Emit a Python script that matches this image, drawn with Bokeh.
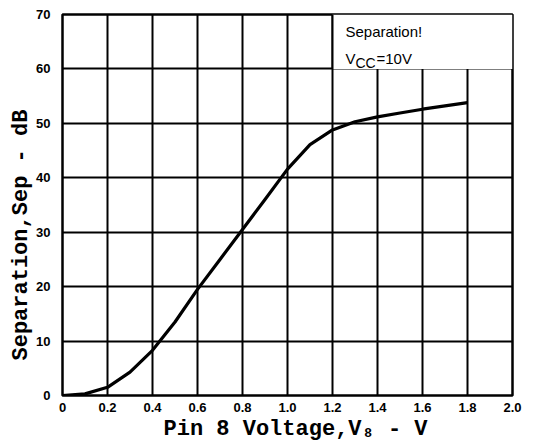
from bokeh.plotting import figure
from bokeh.models import Range1d, FixedTicker, Label, Title
from bokeh.embed import file_html
from bokeh.resources import INLINE

# ---- data ----
volt = [0.0, 0.1, 0.2, 0.3, 0.4, 0.5, 0.6, 0.7, 0.8, 0.9, 1.0,
        1.1, 1.2, 1.3, 1.4, 1.5, 1.6, 1.7, 1.8]
sep_db = [0.0, 0.3, 1.5, 4.3, 8.3, 13.5, 19.5, 25.0, 30.5, 36.0, 41.6,
          46.1, 48.8, 50.3, 51.2, 51.9, 52.6, 53.2, 53.8]
x_ticks = [0.0, 0.2, 0.4, 0.6, 0.8, 1.0, 1.2, 1.4, 1.6, 1.8, 2.0]
x_tick_labels = ["0", "0.2", "0.4", "0.6", "0.8", "1.0", "1.2", "1.4", "1.6", "1.8", "2.0"]
y_ticks = [0, 10, 20, 30, 40, 50, 60, 70]
y_tick_labels = ["0", "10", "20", "30", "40", "50", "60", "70"]
x_title = "Pin 8 Voltage,V\u2088 - V"
y_title = "Separation,Sep - dB"
# annotation box (data units)
note_x = [1.2, 2.0]
note_y = [60, 70]

p = figure(width=530, height=445, output_backend="svg", toolbar_location=None,
           x_range=Range1d(0, 2.0), y_range=Range1d(0, 70),
           min_border_left=62, min_border_right=18, min_border_top=14,
           min_border_bottom=50)
p.background_fill_color = "white"
p.border_fill_color = "white"
p.outline_line_color = "black"
p.outline_line_width = 2.5

for ax in (p.xaxis[0], p.yaxis[0]):
    ax.axis_line_color = None
    ax.major_tick_line_color = None
    ax.minor_tick_line_color = None
    ax.major_label_text_font = "Liberation Sans"
    ax.major_label_text_font_style = "bold"
    ax.major_label_text_font_size = "13px"
    ax.major_label_text_color = "black"

p.xaxis.ticker = FixedTicker(ticks=x_ticks)
p.yaxis.ticker = FixedTicker(ticks=y_ticks)
p.xaxis.major_label_overrides = {t: s for t, s in zip(x_ticks, x_tick_labels)}
p.yaxis.major_label_overrides = {t: s for t, s in zip(y_ticks, y_tick_labels)}
p.xaxis.major_label_standoff = 1
p.yaxis.major_label_standoff = 6

p.xgrid.ticker = FixedTicker(ticks=x_ticks)
p.ygrid.ticker = FixedTicker(ticks=y_ticks)
for g in (p.xgrid[0], p.ygrid[0]):
    g.grid_line_color = "black"
    g.grid_line_width = 2
    g.grid_line_alpha = 1.0

# annotation box hides the grid in the upper right corner
p.quad(left=[note_x[0]], right=[note_x[1]], bottom=[note_y[0]], top=[note_y[1]],
       fill_color="white", line_color=None)
p.segment(x0=[note_x[0]], y0=[note_y[0]], x1=[note_x[0]], y1=[note_y[1]],
          line_color="black", line_width=2)

# curve
p.line(volt, sep_db, line_color="black", line_width=3.2, line_join="round")

# annotation text (screen units, relative to plot frame)
sans = "Liberation Sans"
p.add_layout(Label(x=283, y=364, x_units="screen", y_units="screen", text="Separation!",
                   text_font=sans, text_font_size="15px", text_baseline="alphabetic",
                   text_color="black"))
p.add_layout(Label(x=283, y=337, x_units="screen", y_units="screen", text="V",
                   text_font=sans, text_font_size="15px", text_baseline="alphabetic",
                   text_color="black"))
p.add_layout(Label(x=293, y=333, x_units="screen", y_units="screen", text="CC",
                   text_font=sans, text_font_size="14px", text_baseline="alphabetic",
                   text_color="black"))
p.add_layout(Label(x=314, y=337, x_units="screen", y_units="screen", text="=10V",
                   text_font=sans, text_font_size="15px", text_baseline="alphabetic",
                   text_color="black"))

# axis titles (monospace bold) as side-panel titles
mono = "Liberation Mono"
p.add_layout(Title(text=x_title, align="left", offset=101, standoff=0,
                   text_font=mono, text_font_style="bold", text_font_size="22px",
                   text_color="black"), "below")
p.add_layout(Title(text=y_title, align="left", offset=35, standoff=0,
                   text_font=mono, text_font_style="bold", text_font_size="22px",
                   text_color="black"), "left")

open("out.html", "w").write(file_html(p, INLINE))
